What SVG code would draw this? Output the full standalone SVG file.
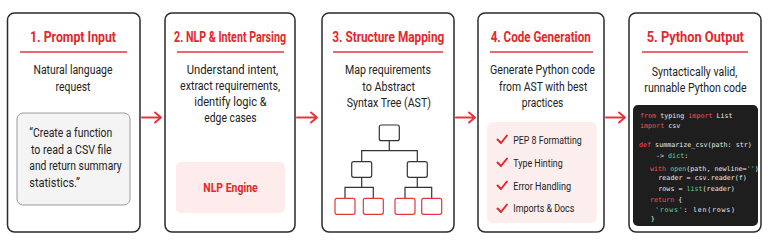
<svg xmlns="http://www.w3.org/2000/svg" width="768" height="245" viewBox="0 0 768 245">
<style>
.card{fill:#fff;stroke:#2b2b2b;stroke-width:1.5}
.title{font-family:Roboto,"Liberation Sans",sans-serif;font-weight:700;font-size:14px;fill:#e5262c;text-anchor:middle}
.rule{stroke:#e5363b;stroke-width:1.5}
.body{font-family:Roboto,"Liberation Sans",sans-serif;font-size:12px;fill:#222;text-anchor:middle}
.quote{font-family:Roboto,"Liberation Sans",sans-serif;font-size:12px;fill:#222}
.chk{font-family:Roboto,"Liberation Sans",sans-serif;font-size:11px;fill:#222}
.tick{fill:none;stroke:#e5262c;stroke-width:2;stroke-linecap:round;stroke-linejoin:round}
.arrow{fill:none;stroke:#e5363b;stroke-width:2;stroke-linecap:round;stroke-linejoin:round}
.tl{fill:none;stroke:#333;stroke-width:1.2}
.tn{fill:#fff;stroke:#333;stroke-width:1.2}
.tr{fill:#fff;stroke:#e5363b;stroke-width:1.2}
.code{font-family:"DejaVu Sans Mono","Liberation Mono",monospace;font-size:6.7px;fill:#e8e8e8}
.kw{fill:#f0505a}
.bi{fill:#5fd39a}
</style>

<g id="connectors">
<path class="arrow" d="M142 117.5H161M155 112.5L161 117.5L155 122.5"/>
<path class="arrow" d="M297 117.5H317M311 112.5L317 117.5L311 122.5"/>
<path class="arrow" d="M456 117.5H475M469 112.5L475 117.5L469 122.5"/>
<path class="arrow" d="M606 117.5H625M619 112.5L625 117.5L619 122.5"/>
</g>

<g id="node-prompt-input">
<rect class="card" x="7.5" y="13" width="132.5" height="219" rx="7"/>
<text class="title" x="73" y="42" textLength="86" lengthAdjust="spacingAndGlyphs">1. Prompt Input</text>
<line class="rule" x1="20" y1="52" x2="127" y2="52"/>
<text class="body" x="73" y="74" textLength="79" lengthAdjust="spacingAndGlyphs">Natural language</text>
<text class="body" x="73" y="90.5" textLength="35" lengthAdjust="spacingAndGlyphs">request</text>
<rect x="17" y="113" width="113" height="92" rx="6" fill="#f4f4f4" stroke="#9a9a9a" stroke-width="1"/>
<text class="quote" x="29.3" y="137" textLength="83" lengthAdjust="spacingAndGlyphs">“Create a function</text>
<text class="quote" x="31" y="153.5" textLength="80.7" lengthAdjust="spacingAndGlyphs">to read a CSV file</text>
<text class="quote" x="29.3" y="170" textLength="92.4" lengthAdjust="spacingAndGlyphs">and return summary</text>
<text class="quote" x="29.3" y="187" textLength="50.7" lengthAdjust="spacingAndGlyphs">statistics.”</text>
</g>

<g id="node-nlp-parsing">
<rect class="card" x="165" y="13" width="130" height="219" rx="7"/>
<text class="title" x="230" y="42" textLength="112" lengthAdjust="spacingAndGlyphs">2. NLP &amp; Intent Parsing</text>
<line class="rule" x1="177" y1="52" x2="284" y2="52"/>
<text class="body" x="232.5" y="74" textLength="91.7" lengthAdjust="spacingAndGlyphs">Understand intent,</text>
<text class="body" x="230" y="90" textLength="100" lengthAdjust="spacingAndGlyphs">extract requirements,</text>
<text class="body" x="230.5" y="106" textLength="72.4" lengthAdjust="spacingAndGlyphs">identify logic &amp;</text>
<text class="body" x="230.5" y="122" textLength="52.4" lengthAdjust="spacingAndGlyphs">edge cases</text>
<rect x="176" y="162" width="109" height="51" rx="5" fill="#fdeceb"/>
<text class="body" x="230.5" y="191.5" textLength="54.4" lengthAdjust="spacingAndGlyphs" style="fill:#e5262c;font-weight:700">NLP Engine</text>
</g>

<g id="node-structure-mapping">
<rect class="card" x="322" y="13" width="132" height="219" rx="7"/>
<text class="title" x="388.3" y="42" textLength="112" lengthAdjust="spacingAndGlyphs">3. Structure Mapping</text>
<line class="rule" x1="333" y1="52" x2="443" y2="52"/>
<text class="body" x="388" y="74" textLength="86" lengthAdjust="spacingAndGlyphs">Map requirements</text>
<text class="body" x="388.6" y="90.5" textLength="52.7" lengthAdjust="spacingAndGlyphs">to Abstract</text>
<text class="body" x="388.8" y="107" textLength="84.3" lengthAdjust="spacingAndGlyphs">Syntax Tree (AST)</text>
<path class="tl" d="M389.3 140.7V150.7M361.7 161.7V150.7H417.3V161.7M361.7 177.3V187.3M345 198.3V187.3H373.3V198.3M417.3 177.3V187.3M405 198.3V187.3H431.7V198.3"/>
<rect class="tn" x="379.3" y="125" width="20" height="15.7" rx="2"/>
<rect class="tn" x="351.7" y="161.7" width="20" height="15.6" rx="2"/>
<rect class="tn" x="407.3" y="161.7" width="20" height="15.6" rx="2"/>
<rect class="tr" x="335" y="198.3" width="20" height="16" rx="2"/>
<rect class="tr" x="363.3" y="198.3" width="20" height="16" rx="2"/>
<rect class="tr" x="395" y="198.3" width="20" height="16" rx="2"/>
<rect class="tr" x="421.7" y="198.3" width="20" height="16" rx="2"/>
</g>

<g id="node-code-generation">
<rect class="card" x="478" y="13" width="126" height="219" rx="7"/>
<text class="title" x="540.7" y="42" textLength="100" lengthAdjust="spacingAndGlyphs">4. Code Generation</text>
<line class="rule" x1="490" y1="52" x2="593" y2="52"/>
<text class="body" x="542.5" y="74" textLength="105" lengthAdjust="spacingAndGlyphs">Generate Python code</text>
<text class="body" x="543.2" y="91" textLength="88.3" lengthAdjust="spacingAndGlyphs">from AST with best</text>
<text class="body" x="542.5" y="107" textLength="41.6" lengthAdjust="spacingAndGlyphs">practices</text>
<rect x="487" y="122" width="110" height="101" rx="6" fill="#fdeeee"/>
<path class="tick" d="M497.5 139.5L501 143L507 135.5"/>
<path class="tick" d="M497.5 162.5L501 166L507 158.5"/>
<path class="tick" d="M497.5 185.5L501 189L507 181.5"/>
<path class="tick" d="M497.5 208.5L501 212L507 204.5"/>
<text class="chk" x="513.3" y="143.8" textLength="68.4" lengthAdjust="spacingAndGlyphs">PEP 8 Formatting</text>
<text class="chk" x="513.3" y="166.5" textLength="49.4" lengthAdjust="spacingAndGlyphs">Type Hinting</text>
<text class="chk" x="513.3" y="189.5" textLength="57.7" lengthAdjust="spacingAndGlyphs">Error Handling</text>
<text class="chk" x="513.3" y="212" textLength="61" lengthAdjust="spacingAndGlyphs">Imports &amp; Docs</text>
</g>

<g id="node-python-output">
<rect class="card" x="629" y="13" width="132" height="219" rx="7"/>
<text class="title" x="695.3" y="42" textLength="97.3" lengthAdjust="spacingAndGlyphs">5. Python Output</text>
<line class="rule" x1="642" y1="52" x2="748" y2="52"/>
<text class="body" x="694.5" y="75.5" textLength="85.6" lengthAdjust="spacingAndGlyphs">Syntactically valid,</text>
<text class="body" x="695.5" y="91.5" textLength="102.4" lengthAdjust="spacingAndGlyphs">runnable Python code</text>
<rect x="633" y="105" width="125" height="121" rx="5" fill="#1e1e1e"/>
<text class="code" x="640" y="118.2"><tspan class="kw">from</tspan> typing <tspan class="kw">import</tspan> List</text>
<text class="code" x="640" y="128.2"><tspan class="kw">import</tspan> csv</text>
<text class="code" x="639" y="146.8"><tspan class="kw">def</tspan> summarize_csv(path: str)</text>
<text class="code" x="656" y="157.5">-&gt; <tspan class="bi">dict</tspan>:</text>
<text class="code" x="650" y="170.8"><tspan class="kw">with</tspan> <tspan class="bi">open</tspan>(path, newline=<tspan class="bi">''</tspan>)</text>
<text class="code" x="658.3" y="180.2">reader = csv.reader(f)</text>
<text class="code" x="658.3" y="190.8">rows = <tspan class="bi">list</tspan>(reader)</text>
<text class="code" x="650" y="201.5"><tspan class="kw">return</tspan> {</text>
<text class="code" x="655" y="211.5" textLength="80" lengthAdjust="spacing"><tspan class="bi">'rows'</tspan>: len(rows)</text>
<text class="code" x="650.7" y="220.8">}</text>
</g>
</svg>
